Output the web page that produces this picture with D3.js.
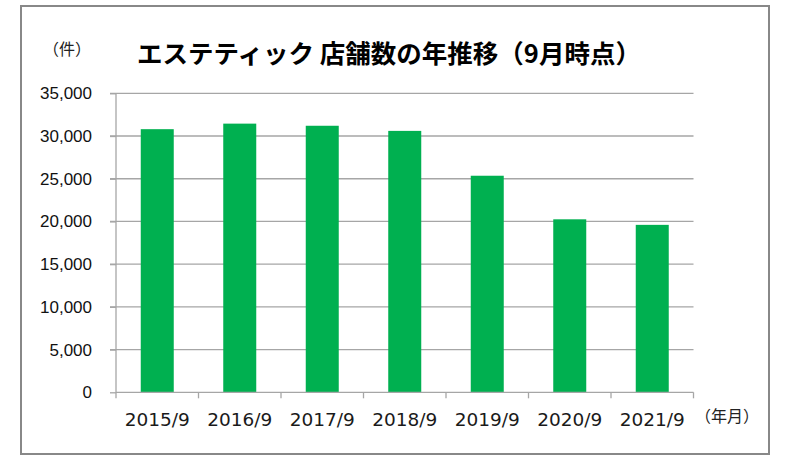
<!DOCTYPE html>
<html><head><meta charset="utf-8">
<script src="https://cdn.jsdelivr.net/npm/d3@7"></script>
<style>body{margin:0;background:#fff}svg{display:block}</style>
</head><body>
<script>
const categories = ["2015/9","2016/9","2017/9","2018/9","2019/9","2020/9","2021/9"];
const values = [30800, 31450, 31200, 30600, 25350, 20250, 19600];
const yTicks = [0,5000,10000,15000,20000,25000,30000,35000];
const title = "エステティック 店舗数の年推移（9月時点）";
const yUnit = "（件）";
const xUnit = "（年月）";

const W = 788, H = 460;
const svg = d3.select("body").append("svg").attr("width", W).attr("height", H);
svg.append("rect").attr("x",21).attr("y",6).attr("width",748).attr("height",448)
  .attr("fill","#fff").attr("stroke","#888").attr("stroke-width",2);

const m = {left:116, right:693.5, top:93.3, bottom:392.3};
const x = d3.scaleBand().domain(categories).range([m.left,m.right]).paddingInner(0.6).paddingOuter(0.3);
const y = d3.scaleLinear().domain([0,35000]).range([m.bottom,m.top]);

// gridlines
svg.append("g").selectAll("line").data(yTicks.filter(d=>d>0)).join("line")
  .attr("x1",m.left-6).attr("x2",m.right).attr("y1",d=>y(d)).attr("y2",d=>y(d))
  .attr("stroke","#a6a6a6").attr("stroke-width",1.3);

// y axis
const yAxis = svg.append("g").attr("transform",`translate(${m.left},0)`)
  .call(d3.axisLeft(y).tickValues(yTicks).tickSize(6).tickPadding(18).tickFormat(d3.format(",")));
yAxis.select(".domain").attr("stroke","#a6a6a6").attr("stroke-width",1.3).attr("d",`M0,${m.top}V${m.bottom}`);
yAxis.selectAll(".tick line").attr("stroke","#a6a6a6").attr("stroke-width",1.3);
yAxis.selectAll("text").attr("font-family","'Liberation Sans', Arial, sans-serif")
  .attr("font-size",17).attr("fill","#111");

// bars
svg.append("g").selectAll("rect").data(values).join("rect")
  .attr("x",(d,i)=>x(categories[i])).attr("width",x.bandwidth())
  .attr("y",d=>y(d)).attr("height",d=>y(0)-y(d)).attr("fill","#00b050");

// x axis
const step = (m.right-m.left)/categories.length;
const xAxis = svg.append("g").attr("transform",`translate(0,${m.bottom})`)
  .call(d3.axisBottom(x).tickSize(0).tickPadding(21));
xAxis.select(".domain").attr("stroke","#a6a6a6").attr("stroke-width",1.3).attr("d",`M${m.left},0H${m.right}`);
xAxis.selectAll("text").attr("font-family","'DejaVu Sans', Verdana, sans-serif")
  .attr("font-size",18.5).attr("fill","#1a1a1a");
svg.append("g").selectAll("line").data(d3.range(categories.length+1)).join("line")
  .attr("x1",i=>m.left+i*step).attr("x2",i=>m.left+i*step)
  .attr("y1",m.bottom).attr("y2",m.bottom+6).attr("stroke","#a6a6a6").attr("stroke-width",1.3);

// title
svg.append("text").attr("x",389).attr("y",63).attr("text-anchor","middle")
  .attr("font-family","'Noto Sans CJK JP', sans-serif").attr("font-weight","bold")
  .attr("font-size",25.5).attr("fill","#000").text(title);
svg.append("text").attr("x",67).attr("y",55).attr("text-anchor","middle")
  .attr("font-family","'Noto Sans CJK JP', sans-serif").attr("font-size",16).attr("fill","#222").text(yUnit);
svg.append("text").attr("x",727).attr("y",422).attr("text-anchor","middle")
  .attr("font-family","'Noto Sans CJK JP', sans-serif").attr("font-size",16).attr("fill","#222").text(xUnit);
</script>
</body></html>
